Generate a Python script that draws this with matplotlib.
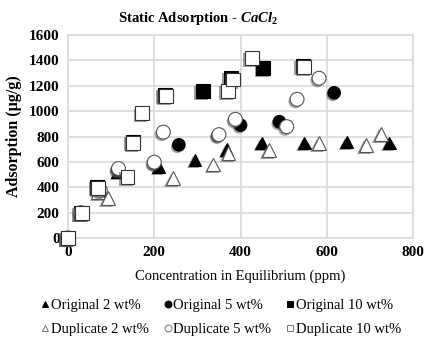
import matplotlib
matplotlib.use("Agg")
import matplotlib.pyplot as plt
import matplotlib.patheffects as pe
from matplotlib.lines import Line2D

# Data
orig2_x = [0, 30, 72, 115, 210, 294, 368, 449, 548, 646, 745]
orig2_y = [0, 200, 370, 525, 562, 614, 699, 751, 751, 759, 751]
orig5_x = [0, 30, 72, 115, 200, 257, 348, 400, 490, 617]
orig5_y = [0, 200, 380, 540, 590, 735, 810, 890, 917, 1145]
orig10_x = [0, 30, 68, 150, 225, 312, 378, 453, 545]
orig10_y = [0, 200, 400, 760, 1125, 1160, 1265, 1340, 1360]
dup2_x = [0, 30, 70, 92, 243, 337, 372, 466, 582, 690, 725]
dup2_y = [0, 200, 360, 318, 470, 580, 672, 693, 746, 733, 820]
dup5_x = [0, 30, 75, 117, 200, 221, 350, 388, 507, 531, 582]
dup5_y = [0, 200, 375, 548, 598, 835, 815, 936, 878, 1094, 1260]
dup10_x = [0, 33, 70, 138, 151, 172, 227, 371, 383, 426, 548]
dup10_y = [0, 200, 393, 482, 751, 983, 1120, 1157, 1250, 1418, 1352]

x_ticks = [0, 200, 400, 600, 800]
y_ticks = [0, 200, 400, 600, 800, 1000, 1200, 1400, 1600]

plt.rcParams['font.family'] = ['Liberation Serif', 'DejaVu Serif']
plt.rcParams['mathtext.fontset'] = 'custom'
plt.rcParams['mathtext.it'] = 'Liberation Serif:italic:bold'
plt.rcParams['mathtext.rm'] = 'Liberation Serif:bold'
plt.rcParams['mathtext.bf'] = 'Liberation Serif:bold'

fig = plt.figure(figsize=(4.25, 3.41), dpi=100)
ax = fig.add_axes([0.16, 0.302, 0.812, 0.595])

shadow = [pe.SimplePatchShadow(offset=(-1.2, -1.5), shadow_rgbFace='#555555', alpha=0.55), pe.Normal()]

series = [
    (orig2_x, orig2_y, '^', 'black', 'black', 9, 'Original 2 wt%'),
    (orig5_x, orig5_y, 'o', 'black', 'black', 9, 'Original 5 wt%'),
    (orig10_x, orig10_y, 's', 'black', 'black', 10, 'Original 10 wt%'),
    (dup2_x, dup2_y, '^', 'white', '#555555', 10, 'Duplicate 2 wt%'),
    (dup5_x, dup5_y, 'o', 'white', '#555555', 10, 'Duplicate 5 wt%'),
    (dup10_x, dup10_y, 's', 'white', '#333333', 10, 'Duplicate 10 wt%'),
]
for i, (x, y, m, fc, ec, ms, lab) in enumerate(series):
    ax.plot(x, y, linestyle='none', marker=m, markerfacecolor=fc, markeredgecolor=ec,
            markersize=ms, markeredgewidth=0.8, clip_on=False, zorder=3 + i,
            path_effects=shadow)

ax.set_xlim(0, 800)
ax.set_ylim(0, 1600)
ax.set_xticks(x_ticks)
ax.set_yticks(y_ticks)
ax.grid(True, color='#d9d9d9', linewidth=1.2)
ax.set_axisbelow(True)
for s in ax.spines.values():
    s.set_color('#d9d9d9')
    s.set_linewidth(1.2)
ax.tick_params(length=0, labelsize=11, pad=6)
for lab in ax.get_xticklabels() + ax.get_yticklabels():
    lab.set_fontweight('bold')

fig.text(0.466, 0.947, r'Static Adsorption - $\mathit{CaCl_2}$', ha='center', va='center',
         fontsize=10.5, fontweight='bold')
ax.set_ylabel('Adsorption (µg/g)', fontsize=11.5, fontweight='bold', labelpad=5)
ax.set_xlabel('Concentration in Equilibrium (ppm)', fontsize=10.5, labelpad=7)

handles = []
order = [0, 3, 1, 4, 2, 5]
for i in order:
    x, y, m, fc, ec, ms, lab = series[i]
    handles.append(Line2D([], [], linestyle='none', marker=m, markerfacecolor=fc,
                          markeredgecolor='black' if fc == 'black' else '#777777',
                          markersize=5, markeredgewidth=0.7, label=lab))
fig.legend(handles=handles, ncol=3, loc='center', bbox_to_anchor=(0.52, 0.068),
           frameon=False, fontsize=10.5, handlelength=0.6, handletextpad=0.1,
           columnspacing=1.0, labelspacing=0.75)

fig.savefig('out.png', dpi=100)
